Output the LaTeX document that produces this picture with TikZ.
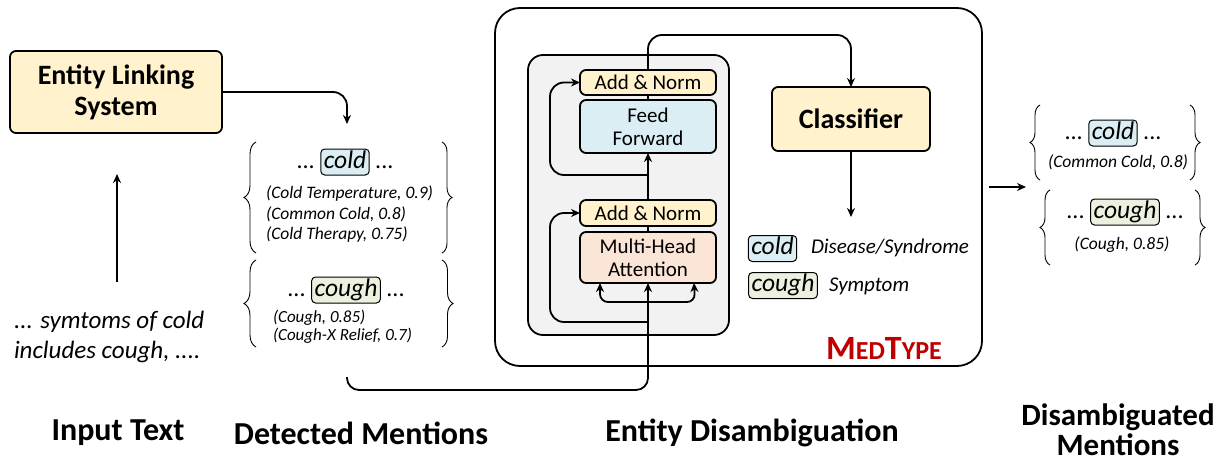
\documentclass[tikz,border=0pt]{standalone}
\usepackage{fontspec}
\setmainfont{Carlito}
\usetikzlibrary{arrows.meta,decorations.pathreplacing,calc}
\definecolor{cyel}{HTML}{FFF2CC}
\definecolor{cblue}{HTML}{DAEEF3}
\definecolor{cpeach}{HTML}{FBE5D6}
\definecolor{cgreen}{HTML}{EBF1DE}
\definecolor{cgray}{HTML}{F2F2F2}
\definecolor{cred}{HTML}{C00000}
\newcommand\fsz[2]{\fontsize{#1}{#2}\selectfont}
\begin{document}
\begin{tikzpicture}[x=1pt,y=-1pt,
  every node/.style={inner sep=0pt, outer sep=0pt},
  ln/.style={line width=1.8pt},
  arr/.style={line width=1.8pt,-{Stealth[length=9pt,width=8pt]}},
  box/.style={draw, line width=1.8pt, rounded corners=6pt},
  tag/.style={draw, line width=1pt, rounded corners=4pt, inner xsep=3pt, inner ysep=2pt, text height=17pt, text depth=5pt, font=\itshape\fsz{25.5}{25}},
  dots/.style={font=\fsz{24}{24}},
  cand/.style={font=\itshape\fsz{17.5}{20.5}, align=left},
  brc/.style={decorate, decoration={brace, amplitude=#1}, line width=0.9pt},
  lbl/.style={font=\bfseries\fsz{32}{28}, align=center},
  encbox/.style={box, minimum width=136pt, font=\fsz{21}{23}, align=center}]
\useasboundingbox (0,0) rectangle (1226,463);

% ---- left part ----
\node[box, fill=cyel, minimum width=212pt, minimum height=82pt, align=center, font=\bfseries\fsz{28}{31}] (els) at (116,92) {Entity Linking\\System};
\node[anchor=west, align=left, font=\itshape\fsz{25}{30}] (inp) at (14,337) {... symtoms of cold\\includes cough, ....};
\coordinate (upA) at (117,282);
\coordinate (upB) at (117,174);
\draw[arr] (upA) -- (upB);

\node[lbl] (lab1) at (118,433) {Input Text};
\node[lbl] (lab2) at (361,433) {Detected Mentions};
\node[lbl] (lab3) at (752,433) {Entity Disambiguation};
\node[lbl, font=\bfseries\fsz{31}{30}] (lab4) at (1118,430) {Disambiguated\\Mentions};

% ---- detected mentions ----
\coordinate (elsT) at (347,124);
\draw[arr, rounded corners=14pt] (els.east) -- (347,92) -- (elsT);

\node[tag, fill=cblue] (dc) at (345,162) {cold};
\node[dots, anchor=base east] (dcl) at ([xshift=-6pt]dc.base west) {...};
\node[dots, anchor=base west] (dcr) at ([xshift=6pt]dc.base east) {...};
\node[cand, anchor=north west] (dcc) at (266,186) {(Cold Temperature, 0.9)\\(Common Cold, 0.8)\\(Cold Therapy, 0.75)};
\draw[brc=12pt] (256,253) -- (256,142);
\draw[brc=10pt] (442,142) -- (442,253);

\node[tag, fill=cgreen] (dg) at (346,290) {cough};
\node[dots, anchor=base east] (dgl) at ([xshift=-6pt]dg.base west) {...};
\node[dots, anchor=base west] (dgr) at ([xshift=6pt]dg.base east) {...};
\node[cand, anchor=north west, font=\itshape\fsz{17}{18}] (dgc) at (273,310) {(Cough, 0.85)\\(Cough-X Relief, 0.7)};
\draw[brc=12pt] (256,347) -- (256,260);
\draw[brc=11pt] (442,260) -- (442,347);

% ---- MedType ----
\node[draw, line width=1.8pt, rounded corners=25pt, minimum width=487pt, minimum height=358pt] (med) at (738.5,187) {};
\node[draw, line width=1.8pt, fill=cgray, rounded corners=15pt, minimum width=201pt, minimum height=280pt] (enc) at (628.5,195) {};

\node[encbox, fill=cyel, minimum height=25pt] (an2) at (648,82.5) {Add \& Norm};
\node[encbox, fill=cblue, minimum height=53pt] (ff) at (648,126.5) {Feed\\Forward};
\node[encbox, fill=cyel, minimum height=26pt] (an1) at (648,213) {Add \& Norm};
\node[encbox, fill=cpeach, minimum height=51pt] (mha) at (648,257.5) {Multi-Head\\Attention};

\node[box, fill=cyel, minimum width=158pt, minimum height=64pt, font=\bfseries\fsz{28}{30}] (cls) at (851,119) {Classifier};

\draw[ln] (mha.north) -- (an1.south);
\draw[arr] (an1.north) -- (ff.south);
\draw[ln] (ff.north) -- (an2.south);
\draw[arr, rounded corners=14pt] (an2.north) -- (648,35) -- (851,35) -- (cls.north);

\coordinate (src) at (347,377);
\draw[arr, rounded corners=12pt] (src) -- (347,390) -- (648,390) -- (mha.south);
\coordinate (br) at (648,302);
\draw[arr, rounded corners=8pt] (br) -- (600,302) -- ($(mha.south)+(-48,0)$);
\draw[arr, rounded corners=8pt] (br) -- (695,302) -- ($(mha.south)+(46,0)$);
\draw[arr, rounded corners=14pt] (648,322) -- (550,322) -- (550,213) -- (an1.west);
\draw[arr, rounded corners=14pt] (648,175) -- (550,175) -- (550,82.5) -- (an2.west);

\coordinate (clsT) at (851,217);
\draw[arr] (cls.south) -- (clsT);

\node[tag, fill=cblue] (lc) at (772.5,248.5) {cold};
\node[anchor=west, font=\itshape\fsz{21}{21}] (lct) at (811,248) {Disease/Syndrome};
\node[tag, fill=cgreen] (lg) at (783,285.5) {cough};
\node[anchor=west, font=\itshape\fsz{21}{21}] (lgt) at (829,286) {Symptom};

\node[font=\bfseries, text=cred] (mt) at (884,348) {\fsz{34}{34}M\fsz{26}{26}ED\fsz{34}{34}T\fsz{26}{26}YPE};

% ---- disambiguated ----
\coordinate (ra) at (989,187);
\coordinate (rb) at (1026,187);
\draw[arr] (ra) -- (rb);

\node[tag, fill=cblue] (rc) at (1113,133) {cold};
\node[dots, anchor=base east] (rcl) at ([xshift=-6pt]rc.base west) {...};
\node[dots, anchor=base west] (rcr) at ([xshift=6pt]rc.base east) {...};
\node[font=\itshape\fsz{17.5}{17}] (rcc) at (1118,162) {(Common Cold, 0.8)};
\draw[brc=10pt] (1040,180) -- (1040,105);
\draw[brc=10pt] (1190,105) -- (1190,180);

\node[tag, fill=cgreen] (rg) at (1125,212) {cough};
\node[dots, anchor=base east] (rgl) at ([xshift=-6pt]rg.base west) {...};
\node[dots, anchor=base west] (rgr) at ([xshift=6pt]rg.base east) {...};
\node[font=\itshape\fsz{17.5}{17}] (rgc) at (1122,245) {(Cough, 0.85)};
\draw[brc=10pt] (1050,265) -- (1050,190);
\draw[brc=10pt] (1195,190) -- (1195,265);
\end{tikzpicture}
\end{document}
